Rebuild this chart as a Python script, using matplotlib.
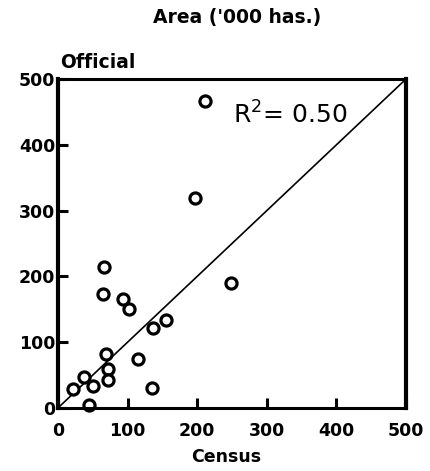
import matplotlib.pyplot as plt
import numpy as np

census = [211, 197, 248, 66, 64, 94, 102, 155, 137, 69, 115, 72, 72, 38, 50, 21, 45, 135]
official = [467, 319, 190, 214, 173, 165, 150, 134, 122, 82, 74, 59, 42, 47, 33, 29, 4, 30]
ticks = [0, 100, 200, 300, 400, 500]

fig = plt.figure(figsize=(4.3, 4.71), dpi=100)
ax = fig.add_axes([0.135, 0.134, 0.809, 0.698])

ax.plot([0, 500], [0, 500], color='black', lw=1.2)
ax.plot(census, official, 'o', ms=8, mfc='white', mec='black', mew=2.3, clip_on=False)

ax.set_xlim(0, 500)
ax.set_ylim(0, 500)
ax.set_xticks(ticks)
ax.set_yticks(ticks)
ax.set_xticklabels([str(t) for t in ticks], fontweight='bold', fontsize=12.5)
ax.set_yticklabels([str(t) for t in ticks], fontweight='bold', fontsize=12.5)
ax.tick_params(direction='in', length=7, width=2.2)
ax.tick_params(axis='x', pad=10)
ax.tick_params(axis='y', pad=2)

for side in ['left', 'right']:
	ax.spines[side].set_linewidth(3)
for side in ['top', 'bottom']:
	ax.spines[side].set_linewidth(2.2)

fig.text(0.552, 0.962, "Area ('000 has.)", ha='center', va='center', fontweight='bold', fontsize=13.5)
fig.text(0.14, 0.868, 'Official', ha='left', va='center', fontweight='bold', fontsize=13.5)
fig.text(0.526, 0.030, 'Census', ha='center', va='center', fontweight='bold', fontsize=12.5)
ax.text(251, 445, r'R$^{2}$= 0.50', fontsize=18, va='center', ha='left')

fig.savefig('out.png', dpi=100)
